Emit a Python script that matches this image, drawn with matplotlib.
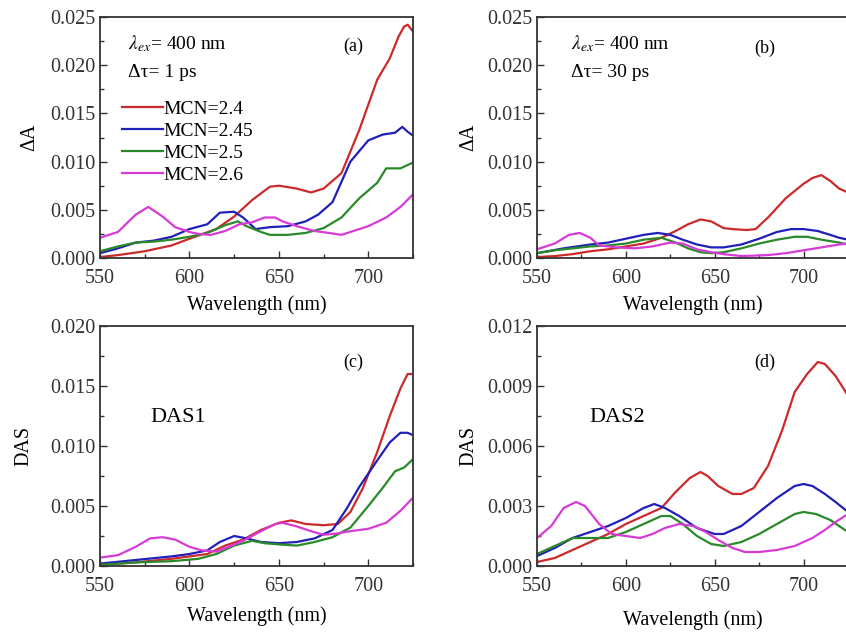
import matplotlib
matplotlib.use("Agg")
import matplotlib.pyplot as plt
from matplotlib.ticker import MultipleLocator, FormatStrFormatter

plt.rcParams["font.family"] = ["Liberation Serif", "DejaVu Serif"]
plt.rcParams["mathtext.fontset"] = "stix"
plt.rcParams["font.size"] = 14

labels = ["MCN=2.4", "MCN=2.45", "MCN=2.5", "MCN=2.6"]
colors = ["#cc2a2a", "#2020b8", "#2a8a2a", "#d83ad8"]

# (a) delta A at 1 ps
a_red_x = [550, 560, 575, 590, 600, 615, 625, 635, 645, 650, 660, 668, 675, 685, 695, 705, 712, 717, 720, 722, 725]
a_red_y = [0.0001, 0.0003, 0.0007, 0.0013, 0.002, 0.003, 0.0043, 0.006, 0.0074, 0.0075, 0.0072, 0.0068, 0.0072, 0.0088, 0.0133, 0.0185, 0.0207, 0.023, 0.024, 0.0242, 0.0235]
a_blue_x = [550, 560, 570, 580, 590, 600, 610, 617, 625, 630, 637, 645, 655, 665, 672, 680, 690, 700, 708, 715, 719, 722, 725]
a_blue_y = [0.0005, 0.001, 0.0016, 0.0018, 0.0022, 0.003, 0.0035, 0.0047, 0.0048, 0.0042, 0.003, 0.0032, 0.0033, 0.0038, 0.0045, 0.0058, 0.01, 0.0122, 0.0128, 0.013, 0.0136, 0.0131, 0.0127]
a_green_x = [550, 560, 570, 580, 590, 600, 610, 620, 627, 632, 640, 645, 655, 665, 675, 685, 695, 705, 710, 718, 725]
a_green_y = [0.0007, 0.0012, 0.0016, 0.0017, 0.0019, 0.0022, 0.0026, 0.0034, 0.0038, 0.0033, 0.0027, 0.0024, 0.0024, 0.0026, 0.0031, 0.0042, 0.0062, 0.0078, 0.0093, 0.0093, 0.0099]
a_mag_x = [550, 560, 570, 577, 585, 592, 600, 605, 612, 620, 628, 635, 642, 648, 652, 660, 670, 678, 685, 690, 700, 710, 718, 725]
a_mag_y = [0.0021, 0.0027, 0.0045, 0.0053, 0.0043, 0.0032, 0.0027, 0.0025, 0.0024, 0.0028, 0.0035, 0.0037, 0.0042, 0.0042, 0.0038, 0.0033, 0.0028, 0.0026, 0.0024, 0.0027, 0.0033, 0.0042, 0.0053, 0.0066]

# (b) delta A at 30 ps
b_red_x = [550, 560, 570, 580, 590, 600, 610, 620, 628, 635, 642, 648, 655, 660, 668, 673, 680, 690, 700, 705, 710, 715, 720, 725]
b_red_y = [0.0001, 0.0002, 0.0004, 0.0007, 0.0009, 0.0012, 0.0015, 0.0021, 0.0028, 0.0035, 0.004, 0.0038, 0.0031, 0.003, 0.0029, 0.003, 0.0042, 0.0062, 0.0077, 0.0083, 0.0086, 0.008, 0.0072, 0.0068]
b_blue_x = [550, 565, 580, 590, 600, 610, 618, 625, 632, 640, 648, 655, 665, 675, 685, 693, 700, 708, 715, 720, 725]
b_blue_y = [0.0005, 0.001, 0.0014, 0.0016, 0.002, 0.0024, 0.0026, 0.0024, 0.0019, 0.0014, 0.0011, 0.0011, 0.0014, 0.002, 0.0027, 0.003, 0.003, 0.0028, 0.0024, 0.0021, 0.0019]
b_green_x = [550, 560, 570, 580, 590, 600, 610, 620, 628, 635, 642, 648, 655, 665, 675, 685, 695, 702, 710, 720, 725]
b_green_y = [0.0005, 0.0008, 0.001, 0.0012, 0.0013, 0.0015, 0.0019, 0.0021, 0.0016, 0.001, 0.0006, 0.0005, 0.0006, 0.001, 0.0015, 0.0019, 0.0022, 0.0022, 0.0019, 0.0016, 0.0014]
b_mag_x = [550, 560, 568, 574, 580, 585, 595, 605, 615, 625, 632, 640, 648, 655, 665, 680, 690, 700, 710, 720, 725]
b_mag_y = [0.0009, 0.0015, 0.0024, 0.0026, 0.0021, 0.0013, 0.0011, 0.001, 0.0012, 0.0016, 0.0015, 0.0009, 0.0006, 0.0004, 0.0002, 0.0003, 0.0005, 0.0008, 0.0011, 0.0014, 0.0015]

# (c) DAS1
c_red_x = [550, 570, 590, 600, 610, 620, 630, 640, 650, 657, 665, 675, 683, 690, 697, 705, 712, 718, 722, 725]
c_red_y = [0.0001, 0.0003, 0.0006, 0.0008, 0.001, 0.0017, 0.0022, 0.003, 0.0036, 0.0038, 0.0035, 0.0034, 0.0035, 0.0045, 0.0065, 0.0095, 0.0125, 0.0148, 0.016, 0.016]
c_blue_x = [550, 570, 590, 600, 610, 617, 625, 632, 640, 650, 660, 670, 680, 688, 695, 705, 712, 718, 722, 725]
c_blue_y = [0.0002, 0.0005, 0.0008, 0.001, 0.0013, 0.002, 0.0025, 0.0023, 0.002, 0.0019, 0.002, 0.0023, 0.003, 0.0048, 0.0066, 0.0088, 0.0103, 0.0111, 0.0111, 0.0109]
c_green_x = [550, 570, 590, 605, 615, 625, 635, 642, 650, 660, 670, 680, 690, 700, 708, 715, 720, 725]
c_green_y = [0.0001, 0.0003, 0.0004, 0.0006, 0.001, 0.0017, 0.0021, 0.0019, 0.0018, 0.0017, 0.002, 0.0024, 0.0032, 0.005, 0.0065, 0.0079, 0.0082, 0.0089]
c_mag_x = [550, 560, 570, 578, 585, 592, 600, 607, 615, 622, 630, 640, 648, 652, 660, 668, 675, 682, 690, 700, 710, 718, 725]
c_mag_y = [0.0007, 0.0009, 0.0016, 0.0023, 0.0024, 0.0022, 0.0016, 0.0013, 0.0012, 0.0016, 0.0021, 0.0029, 0.0035, 0.0036, 0.0033, 0.0029, 0.0026, 0.0027, 0.0029, 0.0031, 0.0036, 0.0046, 0.0057]

# (d) DAS2
d_red_x = [550, 560, 570, 580, 590, 600, 610, 620, 628, 636, 642, 646, 652, 660, 665, 672, 680, 688, 695, 702, 708, 712, 718, 723, 725]
d_red_y = [0.0002, 0.0004, 0.0008, 0.0012, 0.0016, 0.0021, 0.0025, 0.0029, 0.0037, 0.0044, 0.0047, 0.0045, 0.004, 0.0036, 0.0036, 0.0039, 0.005, 0.0068, 0.0087, 0.0096, 0.0102, 0.0101, 0.0095, 0.0088, 0.0085]
d_blue_x = [550, 560, 570, 580, 590, 600, 610, 616, 622, 630, 640, 650, 655, 665, 675, 685, 695, 700, 705, 712, 718, 725]
d_blue_y = [0.0005, 0.0009, 0.0014, 0.0017, 0.002, 0.0024, 0.0029, 0.0031, 0.0029, 0.0025, 0.0019, 0.0016, 0.0016, 0.002, 0.0027, 0.0034, 0.004, 0.0041, 0.004, 0.0036, 0.0032, 0.0027]
d_green_x = [550, 560, 570, 580, 590, 600, 610, 620, 625, 632, 640, 648, 655, 665, 675, 685, 695, 700, 707, 715, 720, 725]
d_green_y = [0.0006, 0.001, 0.0014, 0.0014, 0.0014, 0.0017, 0.0021, 0.0025, 0.0025, 0.0021, 0.0015, 0.0011, 0.001, 0.0012, 0.0016, 0.0021, 0.0026, 0.0027, 0.0026, 0.0023, 0.002, 0.0017]
d_mag_x = [550, 558, 565, 572, 577, 585, 592, 600, 608, 615, 622, 630, 638, 645, 652, 660, 667, 675, 685, 695, 705, 712, 718, 725]
d_mag_y = [0.0014, 0.002, 0.0029, 0.0032, 0.003, 0.0021, 0.0016, 0.0015, 0.0014, 0.0016, 0.0019, 0.0021, 0.002, 0.0017, 0.0013, 0.0009, 0.0007, 0.0007, 0.0008, 0.001, 0.0014, 0.0018, 0.0022, 0.0026]

W, H = 846, 637
fig = plt.figure(figsize=(W / 100, H / 100), dpi=100)


def px_axes(left, top, right, bottom):
    return fig.add_axes([left / W, (H - bottom) / H, (right - left) / W, (bottom - top) / H])


def style(ax, ymax, ymajor, ylabel, xlpad, ylpad):
    ax.set_xlim(550, 725)
    ax.set_ylim(0, ymax)
    ax.xaxis.set_major_locator(MultipleLocator(50))
    ax.xaxis.set_minor_locator(MultipleLocator(25))
    ax.yaxis.set_major_locator(MultipleLocator(ymajor))
    ax.yaxis.set_minor_locator(MultipleLocator(ymajor / 2))
    ax.yaxis.set_major_formatter(FormatStrFormatter("%.3f"))
    ax.tick_params(which="major", direction="in", length=5, width=1, labelsize=14.5, colors="#333333")
    ax.tick_params(axis="x", which="major", pad=8)
    ax.tick_params(which="minor", direction="in", length=3, width=1, colors="#333333")
    for s in ax.spines.values():
        s.set_linewidth(1.3)
        s.set_color("#333333")
    ax.set_xlabel("Wavelength (nm)", fontsize=14.5, labelpad=xlpad)
    ax.set_ylabel(ylabel, fontsize=14.5, labelpad=ylpad)


ax_a = px_axes(100, 17, 413, 258)
ax_b = px_axes(537, 17, 848, 258)
ax_c = px_axes(100, 326, 413, 566)
ax_d = px_axes(537, 326, 848, 566)

series = {
    ax_a: [(a_red_x, a_red_y), (a_blue_x, a_blue_y), (a_green_x, a_green_y), (a_mag_x, a_mag_y)],
    ax_b: [(b_red_x, b_red_y), (b_blue_x, b_blue_y), (b_green_x, b_green_y), (b_mag_x, b_mag_y)],
    ax_c: [(c_red_x, c_red_y), (c_blue_x, c_blue_y), (c_green_x, c_green_y), (c_mag_x, c_mag_y)],
    ax_d: [(d_red_x, d_red_y), (d_blue_x, d_blue_y), (d_green_x, d_green_y), (d_mag_x, d_mag_y)],
}
for ax, lines in series.items():
    for (x, y), c, lab in zip(lines, colors, labels):
        ax.plot(x, y, color=c, lw=1.6, label=lab)

style(ax_a, 0.025, 0.005, "ΔA", 5, 8)
style(ax_b, 0.025, 0.005, "ΔA", 5, 6)
style(ax_c, 0.020, 0.005, "DAS", 7, 12)
style(ax_d, 0.012, 0.003, "DAS", 10, 6)

ax_a.legend(loc="upper left", bbox_to_anchor=(0.045, 0.685), frameon=False,
            handlelength=2.1, handletextpad=0.05, labelspacing=0.22, fontsize=14, borderaxespad=0)

ax_a.text(0.09, 0.89, r"$\lambda_{ex}$= 400 nm", transform=ax_a.transAxes, fontsize=14, va="center")
ax_a.text(0.09, 0.77, "Δτ= 1 ps", transform=ax_a.transAxes, fontsize=14, va="center")
ax_a.text(0.776, 0.88, "(a)", transform=ax_a.transAxes, fontsize=13, va="center")

ax_b.text(0.11, 0.89, r"$\lambda_{ex}$= 400 nm", transform=ax_b.transAxes, fontsize=14, va="center")
ax_b.text(0.11, 0.77, "Δτ= 30 ps", transform=ax_b.transAxes, fontsize=14, va="center")
ax_b.text(0.70, 0.87, "(b)", transform=ax_b.transAxes, fontsize=13, va="center")

ax_c.text(0.776, 0.85, "(c)", transform=ax_c.transAxes, fontsize=13, va="center")
ax_c.text(0.16, 0.62, "DAS1", transform=ax_c.transAxes, fontsize=16, va="center")

ax_d.text(0.70, 0.85, "(d)", transform=ax_d.transAxes, fontsize=13, va="center")
ax_d.text(0.17, 0.62, "DAS2", transform=ax_d.transAxes, fontsize=16, va="center")

fig.savefig("out.png", dpi=100)
